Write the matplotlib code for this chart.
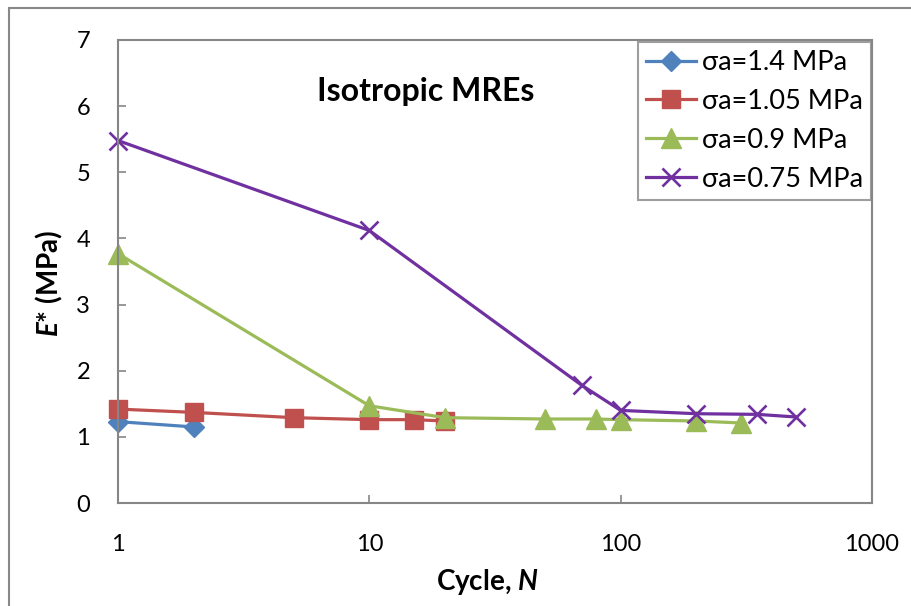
import matplotlib
matplotlib.use("Agg")
import matplotlib.pyplot as plt
from matplotlib.patches import Rectangle

plt.rcParams['font.family'] = ['Lato', 'DejaVu Sans']
plt.rcParams['mathtext.fontset'] = 'custom'
plt.rcParams['mathtext.rm'] = 'Lato'
plt.rcParams['mathtext.it'] = 'Lato:italic'
plt.rcParams['mathtext.bf'] = 'Lato:bold'
plt.rcParams['mathtext.bfit'] = 'Lato:bold:italic'

# data
n_14 = [1, 2]
e_14 = [1.23, 1.15]

n_105 = [1, 2, 5, 10, 15, 20]
e_105 = [1.42, 1.37, 1.29, 1.26, 1.26, 1.24]

n_09 = [1, 10, 20, 50, 80, 100, 200, 300]
e_09 = [3.77, 1.47, 1.29, 1.27, 1.27, 1.26, 1.24, 1.21]

n_075 = [1, 10, 70, 100, 200, 350, 500]
e_075 = [5.48, 4.12, 1.78, 1.40, 1.35, 1.34, 1.30]

labels = ["σa=1.4 MPa", "σa=1.05 MPa", "σa=0.9 MPa", "σa=0.75 MPa"]
x_ticks = [1, 10, 100, 1000]
y_ticks = [0, 1, 2, 3, 4, 5, 6, 7]

W, H = 912, 606
fig = plt.figure(figsize=(W / 100, H / 100), dpi=100)
ax = fig.add_axes([118 / W, 1 - 503 / H, (872 - 118) / W, (503 - 40) / H])

lw = 2.3
ax.plot(n_14, e_14, color='#4F81BD', lw=lw, marker='D', ms=10, label=labels[0], clip_on=False)
ax.plot(n_105, e_105, color='#C0504D', lw=lw, marker='s', ms=13, label=labels[1], clip_on=False)
ax.plot(n_09, e_09, color='#9BBB59', lw=lw, marker='^', ms=14, label=labels[2], clip_on=False)
ax.plot(n_075, e_075, color='#7030A0', lw=lw, marker='x', ms=13, mew=1.9, label=labels[3],
        clip_on=False)

ax.set_xscale('log')
ax.set_xlim(1, 1000)
ax.set_ylim(0, 7)
ax.set_xticks(x_ticks)
ax.set_xticklabels([str(v) for v in x_ticks])
ax.set_yticks(y_ticks)
ax.minorticks_off()
ax.tick_params(direction='in', length=6, width=1.2, color='#868686',
               labelsize=17, pad=20)
ax.tick_params(axis='x', pad=22)
for s in ax.spines.values():
    s.set_color('#868686')
    s.set_linewidth(1.5)

ax.set_xlabel(r"Cycle, $\bfit{N}$", fontsize=20, fontweight='bold')
ax.xaxis.set_label_coords(0.49, -0.138)
ax.set_ylabel(r"$\bfit{E}$* (MPa)", fontsize=20, fontweight='bold')
ax.yaxis.set_label_coords(-0.07, 0.475)

ax.text(0.408, 0.888, "Isotropic MREs", transform=ax.transAxes,
        fontsize=23, fontweight='bold', ha='center', va='center')

leg = ax.legend(loc='upper right', bbox_to_anchor=(871 / W, 1 - 42 / H),
                bbox_transform=fig.transFigure, fontsize=19.5, frameon=True,
                fancybox=False, edgecolor='#868686', handlelength=1.85,
                handletextpad=0.22, labelspacing=0.51, borderpad=0.3,
                borderaxespad=0)
leg.get_frame().set_linewidth(1.5)

# outer chart border
fig.add_artist(Rectangle((9 / W, -0.2), 1.3, 1.2 - 7.5 / H, transform=fig.transFigure,
                         fill=False, edgecolor='#888888', lw=1.5))

fig.savefig("out.png", dpi=100)
